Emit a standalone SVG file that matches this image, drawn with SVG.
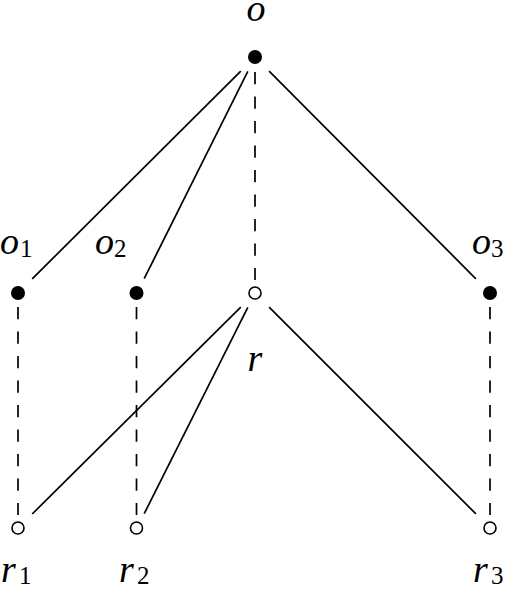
<svg xmlns="http://www.w3.org/2000/svg" width="507" height="590" viewBox="0 0 507 590">
<style>
.edge{stroke:#000;stroke-width:1.7;fill:none}
.dash{stroke-dasharray:12.25 12.25}
.full{fill:#000}
.open{fill:#fff;stroke:#000;stroke-width:1.6}
.lbl{font-family:"Liberation Serif","DejaVu Serif",serif;font-style:italic;font-size:38px;fill:#000}
.sub{font-family:"Liberation Serif","DejaVu Serif",serif;font-size:25px;fill:#000}
</style>
<rect width="507" height="590" fill="#fff"/>
<g id="connectors">
<line class="edge" x1="240.8" y1="71.1" x2="32.2" y2="278.9"/>
<line class="edge" x1="247.8" y1="71.3" x2="144.2" y2="278.7"/>
<line class="edge" x1="269.1" y1="71.2" x2="475.9" y2="278.8"/>
<line class="edge dash" x1="255" y1="72" x2="255" y2="280"/>
<line class="edge" x1="240.8" y1="307.1" x2="32.2" y2="514"/>
<line class="edge" x1="247.8" y1="307.3" x2="144.2" y2="513.7"/>
<line class="edge" x1="269.1" y1="307.1" x2="475.9" y2="513.9"/>
<line class="edge dash" x1="18" y1="307" x2="18" y2="515"/>
<line class="edge dash" x1="136.5" y1="307" x2="136.5" y2="515"/>
<line class="edge dash" x1="490" y1="307" x2="490" y2="515"/>
</g>
<g id="o"><circle class="full" cx="255" cy="57" r="7"/><text class="lbl" x="256" y="21" text-anchor="middle">o</text></g>
<g id="o1"><circle class="full" cx="18" cy="293" r="7"/><text class="lbl" x="0" y="254">o</text><text class="sub" x="20" y="257">1</text></g>
<g id="o2"><circle class="full" cx="136.5" cy="293" r="7"/><text class="lbl" x="95" y="254">o</text><text class="sub" x="114" y="257">2</text></g>
<g id="r"><circle class="open" cx="255" cy="293" r="6"/><text class="lbl" x="255" y="371" text-anchor="middle">r</text></g>
<g id="o3"><circle class="full" cx="490" cy="293" r="7"/><text class="lbl" x="472" y="254">o</text><text class="sub" x="491" y="257">3</text></g>
<g id="r1"><circle class="open" cx="18" cy="528" r="6"/><text class="lbl" x="1" y="582">r</text><text class="sub" x="19" y="584">1</text></g>
<g id="r2"><circle class="open" cx="136.5" cy="528" r="6"/><text class="lbl" x="119" y="582">r</text><text class="sub" x="137" y="584">2</text></g>
<g id="r3"><circle class="open" cx="490" cy="528" r="6"/><text class="lbl" x="473" y="582">r</text><text class="sub" x="491" y="584">3</text></g>
</svg>
